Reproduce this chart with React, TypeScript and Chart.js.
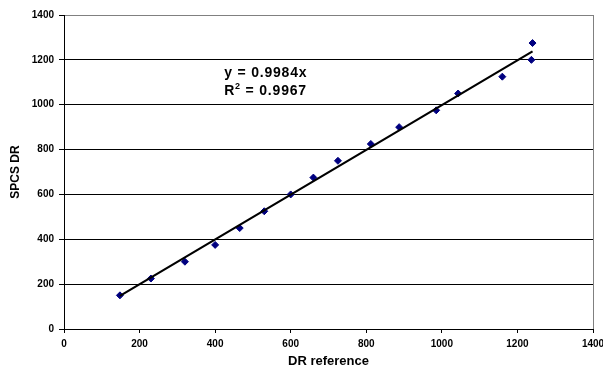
import React, { useEffect, useRef } from "react";
import { Chart, registerables } from "chart.js";

Chart.register(...registerables);

// Data
const drReference = [148, 230, 320, 400, 465, 530, 600, 660, 725, 812, 887, 985, 1043, 1160, 1237, 1240];
const spcsDr = [150, 225, 300, 375, 450, 525, 600, 675, 750, 825, 900, 975, 1050, 1125, 1200, 1275];

// Linear trendline through origin (y = 0.9984x), endpoints
const trendX = [148, 1240];
const trendY = [147.8, 1238];

const axisMin = 0;
const axisMax = 1400;
const axisStep = 200;

const equationText = "y = 0.9984x";
const r2Value = " = 0.9967";
const xTitle = "DR reference";
const yTitle = "SPCS DR";

// annotation anchor (data coordinates)
const eqAnchorX = 424;
const eqLine1Y = 1123;
const eqLine2Y = 1043;

const FONT = "'Liberation Sans', Arial, Helvetica, sans-serif";

const decorPlugin = {
  id: "decor",
  beforeDatasetsDraw(chart: any) {
    const { ctx, chartArea } = chart;
    ctx.save();
    ctx.strokeStyle = "#808080";
    ctx.lineWidth = 1;
    ctx.beginPath();
    const x = Math.round(chartArea.right) + 0.5;
    ctx.moveTo(x, chartArea.top);
    ctx.lineTo(x, chartArea.bottom);
    ctx.stroke();
    ctx.restore();
  },
  afterDatasetsDraw(chart: any) {
    const { ctx } = chart;
    const xs = chart.scales.x;
    const ys = chart.scales.y;
    const x0 = xs.getPixelForValue(eqAnchorX);
    const y1 = ys.getPixelForValue(eqLine1Y);
    const y2 = ys.getPixelForValue(eqLine2Y);
    ctx.save();
    ctx.fillStyle = "#000";
    ctx.textBaseline = "alphabetic";
    ctx.textAlign = "left";
    try { (ctx as any).letterSpacing = "0.8px"; } catch (e) {}
    ctx.font = `bold 14px ${FONT}`;
    ctx.fillText(equationText, x0, y1);
    ctx.fillText("R", x0, y2);
    const wR = ctx.measureText("R").width;
    ctx.font = `bold 9px ${FONT}`;
    ctx.fillText("2", x0 + wR, y2 - 6);
    const w2 = ctx.measureText("2").width;
    ctx.font = `bold 14px ${FONT}`;
    ctx.fillText(r2Value, x0 + wR + w2, y2);
    ctx.restore();
  },
};

export default function App() {
  const ref = useRef<HTMLCanvasElement | null>(null);

  useEffect(() => {
    if (!ref.current) return;
    const chart = new Chart(ref.current, {
      type: "scatter",
      data: {
        datasets: [
          {
            label: "SPCS DR",
            data: drReference.map((x, i) => ({ x, y: spcsDr[i] })),
            pointStyle: "rectRot",
            pointRadius: 3.5,
            pointBorderWidth: 1,
            backgroundColor: "#000080",
            borderColor: "#000080",
            order: 2,
          },
          {
            type: "line",
            label: "Trend",
            data: trendX.map((x, i) => ({ x, y: trendY[i] })),
            borderColor: "#000",
            borderWidth: 2.2,
            pointRadius: 0,
            fill: false,
            order: 1,
          } as any,
        ],
      },
      options: {
        responsive: false,
        animation: false,
        layout: { padding: { top: 15, right: 10, left: 0, bottom: 0 } },
        plugins: {
          legend: { display: false },
          tooltip: { enabled: false },
        },
        scales: {
          x: {
            type: "linear",
            min: axisMin,
            max: axisMax,
            ticks: {
              stepSize: axisStep,
              color: "#000",
              font: { family: FONT, size: 10, weight: "bold" },
              padding: 5,
              maxRotation: 0,
              callback: (v: any) => String(v),
            },
            grid: {
              drawOnChartArea: false,
              drawTicks: true,
              tickLength: 4,
              color: "#000",
            },
            border: { color: "#000", width: 1 },
            title: {
              display: true,
              text: xTitle,
              color: "#000",
              font: { family: FONT, size: 13, weight: "bold" },
              padding: { top: 0, bottom: 0 },
            },
            afterFit(scale: any) {
              scale.height = 40;
              scale.paddingLeft = 0;
              scale.paddingRight = 0;
            },
          },
          y: {
            type: "linear",
            min: axisMin,
            max: axisMax,
            ticks: {
              stepSize: axisStep,
              color: "#000",
              font: { family: FONT, size: 10, weight: "bold" },
              padding: 5,
              callback: (v: any) => String(v),
            },
            grid: {
              drawTicks: true,
              tickLength: 5,
              color: (c: any) => (c.tick && c.tick.value === axisMax ? "#808080" : "#000"),
              tickColor: "#000",
            },
            border: { color: "#000", width: 1 },
            title: {
              display: true,
              text: yTitle,
              color: "#000",
              font: { family: FONT, size: 12, weight: "bold" },
              padding: { top: 8, bottom: 0 },
            },
            afterFit(scale: any) {
              scale.width = 64;
              scale.paddingTop = 0;
              scale.paddingBottom = 0;
            },
          },
        },
      } as any,
      plugins: [decorPlugin],
    });
    return () => chart.destroy();
  }, []);

  return (
    <div style={{ position: "fixed", left: 0, top: 0, width: 603, height: 369, background: "#fff" }}>
      <canvas ref={ref} width={603} height={369} style={{ display: "block" }} />
    </div>
  );
}
